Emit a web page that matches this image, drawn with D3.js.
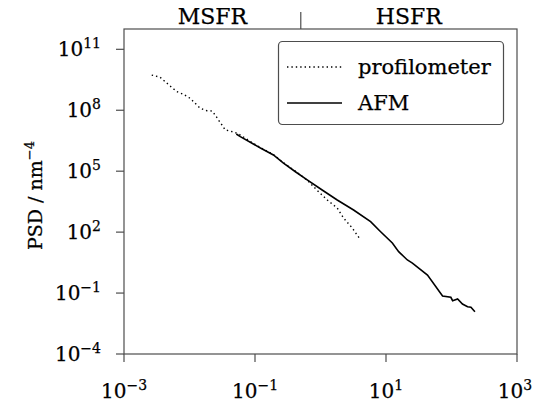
<!DOCTYPE html>
<html>
<head>
<meta charset="utf-8">
<script src="https://cdn.jsdelivr.net/npm/d3@7"></script>
<style>
  html, body { margin: 0; padding: 0; background: #fff; }
  svg text { font-family: "DejaVu Serif", serif; fill: #000; stroke: #000; stroke-width: 0.25px; }
</style>
</head>
<body>
<svg id="chart" width="533" height="405"></svg>
<script>
// ---- data ----
const profX = [0.00265, 0.00356, 0.00409, 0.00506, 0.00641, 0.00809, 0.0102, 0.0122, 0.0146, 0.0184,
               0.022, 0.0247, 0.0277, 0.0313, 0.0351, 0.0419, 0.050, 0.0597, 0.085, 0.121, 0.191,
               0.272, 0.414, 0.626, 0.933, 1.27, 1.80, 2.25, 3.05, 4.1];
const profY = [5.4e9, 4.2e9, 2.85e9, 1.56e9, 8.2e8, 6.1e8, 3.87e8, 2.2e8, 1.25e8, 9.5e7,
               9.2e7, 5.8e7, 3.3e7, 1.88e7, 1.07e7, 9.5e6, 7.9e6, 6.05e6, 2.9e6, 1.45e6, 6.6e5,
               2.6e5, 1.0e5, 3.6e4, 9.8e3, 3.8e3, 1.54e3, 4.95e2, 1.6e2, 41];

const afmX = [0.0518, 0.0597, 0.121, 0.191, 0.272, 0.414, 0.626, 1.06, 1.80, 3.2, 5.82, 8.28,
              12.5, 15.6, 21.2, 25.3, 43, 73, 97.7, 104, 124, 147, 176, 198, 228];
const afmY = [6.8e6, 5.0e6, 1.38e6, 6.3e5, 2.5e5, 9.4e4, 3.7e4, 1.19e4, 3.8e3, 1.23e3, 326, 105,
              29, 10.9, 4.25, 3.0, 0.77, 0.0716, 0.0618, 0.042, 0.051, 0.029, 0.0213, 0.0199, 0.0121];

const xTicks = [1e-3, 1e-1, 1e1, 1e3];
const yTicks = [1e-4, 1e-1, 1e2, 1e5, 1e8, 1e11];
const regions = ["MSFR", "HSFR"];
const regionSplit = 0.5;
const legendNames = ["profilometer", "AFM"];

// ---- layout ----
const svg = d3.select("#chart");
const m = { left: 124, right: 517, top: 29, bottom: 354 };
const axisColor = "#4d4d4d";

const x = d3.scaleLog().domain([1e-3, 1e3]).range([m.left, m.right]);
const y = d3.scaleLog().domain([1e-4, 1e12]).range([m.bottom, m.top]);

function expOf(v) { return Math.round(Math.log10(v)); }
function powerLabel(sel, v, fs) {
  sel.text(null);
  sel.append("tspan").text("10");
  const e = expOf(v);
  sel.append("tspan")
    .attr("dy", -fs * 0.42)
    .style("font-size", (fs * 0.7) + "px")
    .text(e < 0 ? "\u2212" + Math.abs(e) : String(e));
}

/* ============================================================
   FRAME
============================================================ */
svg.append("rect")
  .attr("x", m.left).attr("y", m.top)
  .attr("width", m.right - m.left).attr("height", m.bottom - m.top)
  .attr("fill", "none").attr("stroke", axisColor).attr("stroke-width", 1.2);

// x ticks
const xg = svg.append("g");
xTicks.forEach((t, i) => {
  xg.append("line")
    .attr("x1", x(t)).attr("x2", x(t))
    .attr("y1", m.bottom).attr("y2", m.bottom + 8)
    .attr("stroke", axisColor).attr("stroke-width", 1.2);
  const txt = xg.append("text")
    .attr("x", i === xTicks.length - 1 ? x(t) - 2 : x(t)).attr("y", 398)
    .attr("text-anchor", "middle")
    .style("font-size", "20px");
  powerLabel(txt, t, 20);
});

// y ticks
const yg = svg.append("g");
yTicks.forEach(t => {
  yg.append("line")
    .attr("x1", m.left - 8).attr("x2", m.left)
    .attr("y1", y(t)).attr("y2", y(t))
    .attr("stroke", axisColor).attr("stroke-width", 1.2);
  const txt = yg.append("text")
    .attr("x", 101).attr("y", y(t) + 7)
    .attr("text-anchor", "end")
    .style("font-size", "20px");
  powerLabel(txt, t, 20);
});

// y label
const yl = svg.append("text")
  .attr("transform", "translate(42," + ((m.top + m.bottom) / 2 + 4) + ") rotate(-90)")
  .attr("text-anchor", "middle")
  .style("font-size", "19px");
yl.append("tspan").text("PSD / nm");
yl.append("tspan").attr("dy", -8).style("font-size", "13px").text("\u22124");

/* ============================================================
   TOP REGIONS
============================================================ */
svg.append("line")
  .attr("x1", x(regionSplit)).attr("x2", x(regionSplit))
  .attr("y1", 12).attr("y2", m.top)
  .attr("stroke", axisColor).attr("stroke-width", 1.2);

[[1e-3, regionSplit], [regionSplit, 1e3]].forEach((r, i) => {
  svg.append("text")
    .attr("x", (x(r[0]) + x(r[1])) / 2).attr("y", 24)
    .attr("text-anchor", "middle")
    .style("font-size", "22px")
    .text(regions[i]);
});

/* ============================================================
   LINES
============================================================ */
const line = d3.line().x(d => x(d[0])).y(d => y(d[1]));

svg.append("path")
  .datum(profX.map((v, i) => [v, profY[i]]))
  .attr("d", line)
  .attr("fill", "none").attr("stroke", "#000")
  .attr("stroke-width", 1.4).attr("stroke-dasharray", "1.4,3");

svg.append("path")
  .datum(afmX.map((v, i) => [v, afmY[i]]))
  .attr("d", line)
  .attr("fill", "none").attr("stroke", "#000")
  .attr("stroke-width", 1.6);

/* ============================================================
   LEGEND
============================================================ */
const lg = svg.append("g");
lg.append("rect")
  .attr("x", 278.5).attr("y", 41.5).attr("width", 225).attr("height", 83)
  .attr("rx", 4).attr("ry", 4)
  .attr("fill", "#fff").attr("stroke", axisColor).attr("stroke-width", 1.2);

const legendStyles = [{ dash: "1.4,3", w: 1.4 }, { dash: null, w: 1.6 }];
legendNames.forEach((name, i) => {
  const ly = 67 + i * 36;
  lg.append("line")
    .attr("x1", 287).attr("x2", 342).attr("y1", ly).attr("y2", ly)
    .attr("stroke", "#000").attr("stroke-width", legendStyles[i].w)
    .attr("stroke-dasharray", legendStyles[i].dash);
  lg.append("text")
    .attr("x", 358).attr("y", ly + 7)
    .style("font-size", "21px")
    .text(name);
});
</script>
</body>
</html>
